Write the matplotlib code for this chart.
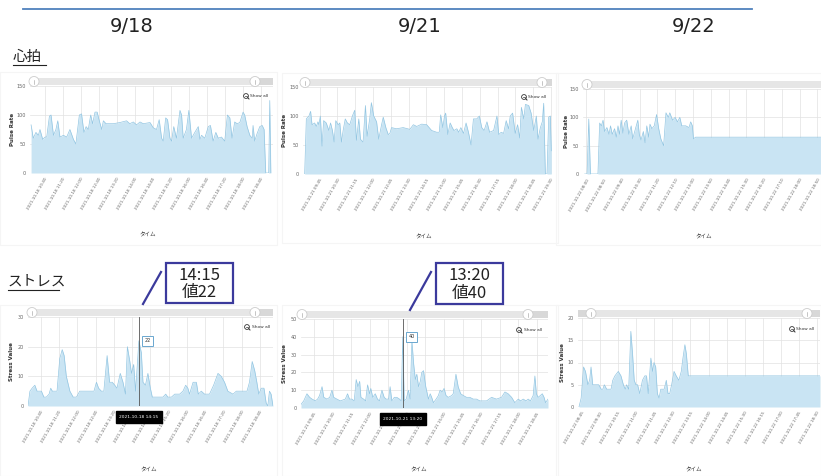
#!/usr/bin/env python3
"""Pulse rate / stress value panels for 9/18, 9/21, 9/22 (slide recreation)."""

import matplotlib
matplotlib.use("Agg")
import matplotlib.pyplot as plt
from matplotlib.patches import Rectangle, Circle

W, H = 821, 476
JP = ["Noto Sans CJK JP", "DejaVu Sans"]

FILL = "#c9e4f3"
LINE = "#93c6e2"
GRID = "#e2e2e2"
NAVY = "#3b3a9c"

# ---- data (time in hours of day, value) ----
pulse_0918_t = [10.15, 10.23, 10.33, 10.42, 10.48, 10.58, 10.67, 10.73, 10.83, 10.89, 10.98, 11.07,
                11.14, 11.22, 11.35, 11.47, 11.59, 11.72, 11.81, 11.94, 12.02, 12.11, 12.19, 12.27,
                12.36, 12.43, 12.52, 12.60, 12.68, 12.77, 12.83, 12.93, 13.20, 13.44, 13.69, 13.81,
                13.94, 14.06, 14.19, 14.31, 14.56, 14.68, 14.80, 14.90, 14.99, 15.05, 15.14, 15.21,
                15.30, 15.36, 15.44, 15.54, 15.67, 15.73, 15.79, 15.91, 16.00, 16.10, 16.22, 16.35,
                16.41, 16.47, 16.59, 16.72, 16.80, 16.90, 17.00, 17.09, 17.21, 17.33, 17.43, 17.52,
                17.60, 17.70, 17.79, 17.89, 18.01, 18.07, 18.16, 18.26, 18.35, 18.38, 18.44, 18.53,
                18.63, 18.72, 18.79, 18.85, 18.96, 19.00, 19.04]
pulse_0918_v = [83, 60, 70, 65, 75, 58, 62, 62, 98, 100, 65, 75,
                90, 62, 65, 62, 75, 58, 50, 100, 102, 70, 80, 75,
                100, 85, 105, 105, 90, 75, 90, 85, 85, 87, 90, 85,
                88, 83, 88, 85, 87, 78, 75, 92, 60, 55, 95, 92,
                60, 55, 80, 60, 108, 100, 60, 75, 108, 60, 70, 80,
                58, 65, 60, 80, 82, 55, 70, 60, 62, 55, 100, 95,
                60, 88, 85, 87, 105, 100, 80, 65, 60, 82, 55, 68,
                80, 82, 75, 0, 0, 125, 0]

pulse_0921_t = [9.12, 9.19, 9.30, 9.37, 9.43, 9.54, 9.61, 9.68, 9.72, 9.78, 9.85, 9.92,
                10.03, 10.14, 10.21, 10.29, 10.36, 10.43, 10.53, 10.60, 10.67, 10.74, 10.83, 10.92,
                11.02, 11.13, 11.23, 11.30, 11.40, 11.47, 11.58, 11.68, 11.75, 11.86, 11.93, 12.03,
                12.15, 12.24, 12.36, 12.43, 12.54, 12.64, 12.71, 12.78, 12.99, 13.27, 13.55, 13.70,
                13.84, 14.05, 14.26, 14.47, 14.68, 14.79, 14.85, 14.94, 15.01, 15.06, 15.15, 15.25,
                15.34, 15.41, 15.53, 15.61, 15.70, 15.81, 15.92, 16.02, 16.13, 16.23, 16.37, 16.48,
                16.58, 16.68, 16.80, 16.91, 17.08, 17.22, 17.30, 17.40, 17.50, 17.61, 17.71, 17.78,
                17.88, 17.99, 18.09, 18.18, 18.25, 18.35, 18.42, 18.56, 18.66, 18.77, 18.88, 18.95,
                19.05, 19.13, 19.19, 19.26, 19.33, 19.40, 19.47, 19.51]
pulse_0921_v = [0, 95, 100, 108, 85, 88, 82, 90, 85, 100, 48, 92,
                88, 75, 88, 75, 55, 92, 85, 88, 55, 75, 95, 88,
                85, 100, 110, 58, 95, 60, 55, 118, 65, 95, 123, 100,
                90, 60, 85, 98, 80, 68, 70, 80, 78, 80, 77, 85,
                82, 86, 85, 75, 72, 72, 102, 80, 100, 105, 68, 88,
                80, 75, 78, 72, 80, 70, 88, 72, 50, 95, 95, 100,
                80, 75, 90, 72, 75, 100, 68, 72, 70, 92, 78, 100,
                105, 70, 85, 62, 115, 95, 120, 118, 105, 75, 100, 60,
                80, 90, 122, 0, 0, 98, 100, 40]

pulse_0922_t = [7.92, 8.03, 8.11, 8.19, 8.54, 8.62, 8.70, 8.78, 8.85, 8.96, 9.06, 9.13,
                9.21, 9.32, 9.40, 9.48, 9.55, 9.63, 9.71, 9.79, 9.89, 9.99, 10.10, 10.17,
                10.30, 10.41, 10.48, 10.56, 10.67, 10.75, 10.83, 10.92, 10.98, 11.07, 11.18, 11.29,
                11.39, 11.49, 11.62, 11.73, 11.84, 11.91, 12.04, 12.16, 12.27, 12.38, 12.47, 12.66,
                12.81, 12.89, 12.97, 13.02, 13.12, 19.00]
pulse_0922_v = [0, 0, 97, 0, 0, 90, 85, 95, 75, 82, 70, 85,
                70, 80, 65, 85, 70, 95, 72, 90, 95, 70, 85, 62,
                80, 95, 70, 60, 75, 55, 85, 65, 88, 80, 85, 105,
                80, 62, 50, 108, 100, 108, 95, 100, 92, 100, 85, 85,
                82, 92, 85, 62, 65, 65]

stress_0918_t = [10.20, 10.27, 10.35, 10.45, 10.53, 10.69, 10.78, 10.87, 10.97, 11.03, 11.09, 11.26,
                 11.36, 11.45, 11.52, 11.60, 11.73, 11.85, 11.97, 12.09, 12.46, 12.61, 12.70, 12.78,
                 12.88, 12.97, 13.09, 13.18, 13.28, 13.37, 13.45, 13.57, 13.67, 13.76, 13.83, 13.92,
                 13.98, 14.06, 14.13, 14.25, 14.34, 14.40, 14.49, 14.58, 14.67, 14.74, 15.13, 15.23,
                 15.31, 15.44, 15.56, 15.74, 15.86, 15.96, 16.04, 16.10, 16.23, 16.35, 16.42, 16.53,
                 16.65, 16.83, 16.98, 17.14, 17.26, 17.38, 17.50, 17.69, 17.81, 18.05, 18.20, 18.29,
                 18.39, 18.48, 18.56, 18.63, 18.72, 18.82, 18.90, 18.96, 19.02, 19.08, 19.15]
stress_0918_v = [0, 5, 6, 7, 5, 5, 3, 3, 4, 6, 5, 5,
                 16, 19, 17, 10, 5, 3, 3, 5, 5, 5, 8, 6,
                 5, 5, 17, 8, 8, 7, 6, 11, 8, 4, 20, 15,
                 11, 14, 5, 22, 18, 8, 7, 11, 6, 3, 3, 4,
                 3, 3, 4, 4, 5, 7, 6, 4, 8, 8, 4, 5,
                 4, 4, 7, 11, 10, 8, 5, 4, 5, 5, 5, 8,
                 15, 12, 8, 4, 6, 6, 1, 0, 5, 4, 0]

stress_0921_t = [9.22, 9.33, 9.46, 9.57, 9.67, 9.80, 9.89, 9.97, 10.07, 10.14, 10.27, 10.38,
                 10.47, 10.54, 10.67, 10.81, 11.01, 11.10, 11.18, 11.28, 11.37, 11.45, 11.52, 11.59,
                 11.64, 11.75, 11.83, 11.91, 11.99, 12.04, 12.12, 12.22, 12.31, 12.39, 12.49, 12.58,
                 12.66, 12.76, 12.82, 12.89, 12.99, 13.09, 13.20, 13.27, 13.33, 13.39, 13.47, 13.56,
                 13.63, 13.70, 13.77, 13.84, 13.90, 13.97, 14.04, 14.10, 14.17, 14.26, 14.37, 14.44,
                 14.50, 14.57, 14.68, 14.77, 14.84, 14.92, 15.00, 15.08, 15.17, 15.31, 15.37, 15.48,
                 15.57, 15.67, 15.78, 15.91, 16.04, 16.18, 16.31, 16.45, 16.72, 16.92, 17.12, 17.32,
                 17.46, 17.59, 17.73, 17.86, 18.00, 18.09, 18.20, 18.31, 18.40, 18.49, 18.60, 18.67,
                 18.73, 18.80, 18.89, 18.97, 19.04, 19.10, 19.20]
stress_0921_v = [2, 4, 8, 6, 5, 4, 5, 7, 12, 6, 5, 6,
                 10, 6, 5, 4, 5, 8, 5, 5, 4, 16, 12, 15,
                 6, 5, 4, 13, 8, 11, 6, 8, 5, 4, 10, 6,
                 5, 5, 12, 4, 6, 6, 5, 4, 40, 4, 5, 10,
                 5, 38, 25, 16, 19, 12, 15, 20, 21, 12, 5, 8,
                 6, 3, 5, 7, 10, 9, 11, 7, 6, 7, 8, 19,
                 12, 8, 7, 6, 6, 5, 5, 4, 4, 6, 5, 6,
                 9, 8, 6, 3, 5, 4, 5, 4, 5, 4, 7, 18,
                 8, 6, 7, 8, 6, 3, 5]

stress_0922_t = [8.63, 8.72, 8.82, 8.90, 9.00, 9.07, 9.13, 9.20, 9.31, 9.45, 9.55, 9.62,
                 9.68, 9.78, 9.96, 10.03, 10.12, 10.26, 10.37, 10.47, 10.55, 10.60, 10.69, 10.78,
                 10.85, 10.92, 10.99, 11.06, 11.15, 11.26, 11.36, 11.43, 11.50, 11.61, 11.68, 11.74,
                 11.81, 11.88, 11.95, 12.02, 12.16, 12.25, 12.32, 12.39, 12.47, 12.57, 12.66, 12.77,
                 12.87, 12.94, 13.02, 13.08, 13.16, 18.62]
stress_0922_v = [0, 2, 9, 8, 5, 6, 9, 5, 5, 5, 4, 4,
                 5, 4, 4, 6, 7, 8, 7, 5, 4, 5, 4, 17,
                 12, 6, 5, 5, 3, 6, 7, 7, 3, 11, 8, 10,
                 9, 3, 2, 4, 4, 6, 3, 3, 5, 8, 7, 6,
                 8, 11, 14, 12, 7, 7]

ticks_0918 = ["10:40", "11:20", "12:00", "12:40", "13:20", "14:00", "14:40",
              "15:20", "16:00", "16:40", "17:20", "18:00", "18:40"]
ticks_0921_pulse = ["09:45", "10:30", "11:15", "12:00", "12:45", "13:30", "14:15",
                    "15:00", "15:45", "16:30", "17:15", "18:00", "18:45", "19:30"]
ticks_0921_stress = ticks_0921_pulse[:-1]
ticks_0922_pulse = ["08:00", "08:50", "09:40", "10:30", "11:20", "12:10", "13:00",
                    "13:50", "14:40", "15:30", "16:20", "17:10", "18:00", "18:50"]
ticks_0922_stress = ["08:45", "09:30", "10:15", "11:00", "11:45", "12:30", "13:15",
                     "14:00", "14:45", "15:30", "16:15", "17:00", "17:45", "18:30"]

day_labels = ["9/18", "9/21", "9/22"]
dates = ["2021-10-18", "2021-10-21", "2021-10-22"]

# highlighted stress points: (panel, time, value, callout text)
highlights = [(3, "14:15", 22, "14:15\n値22"), (4, "13:20", 40, "13:20\n値40")]


def to_hours(hhmm):
    h, m = hhmm.split(":")
    return int(h) + int(m) / 60


def px_axes(fig, left, top, right, bottom):
    return fig.add_axes([left / W, 1 - bottom / H, (right - left) / W, (bottom - top) / H])


# ---- layout (pixels) ----
PANELS = [
    dict(box=(30, 86, 273, 173), t=pulse_0918_t, v=pulse_0918_v, date=dates[0], ticks=ticks_0918,
         xlim=(10.11, 19.12), ylim=150, yticks=[0, 50, 100, 150], ylabel="Pulse Rate",
         handles=(34, 255), show=(246, 96), ylx=12, xlab=(148, 235)),
    dict(box=(303, 87, 552, 174), t=pulse_0921_t, v=pulse_0921_v, date=dates[1], ticks=ticks_0921_pulse,
         xlim=(9.05, 19.54), ylim=150, yticks=[0, 50, 100, 150], ylabel="Pulse Rate",
         handles=(305, 542), show=(524, 97), ylx=285, xlab=(424, 237)),
    dict(box=(583, 89, 821, 174), t=pulse_0922_t, v=pulse_0922_v, date=dates[2], ticks=ticks_0922_pulse,
         xlim=(7.84, 19.0), ylim=150, yticks=[0, 50, 100, 150], ylabel="Pulse Rate",
         handles=(587, None), show=None, ylx=567, xlab=(704, 237)),
    dict(box=(28, 317, 273, 406), t=stress_0918_t, v=stress_0918_v, date=dates[0], ticks=ticks_0918,
         xlim=(10.20, 19.15), ylim=30, yticks=[0, 10, 20, 30], ylabel="Stress Value",
         handles=(32, 255), show=(247, 327), ylx=12, xlab=(149, 470)),
    dict(box=(301, 319, 548, 408), t=stress_0921_t, v=stress_0921_v, date=dates[1], ticks=ticks_0921_stress,
         xlim=(9.22, 19.20), ylim=50, yticks=[0, 10, 20, 30, 40, 50], ylabel="Stress Value",
         handles=(302, 528), show=(519, 330), ylx=284, xlab=(419, 470)),
    dict(box=(578, 318, 820, 407), t=stress_0922_t, v=stress_0922_v, date=dates[2], ticks=ticks_0922_stress,
         xlim=(8.59, 18.62), ylim=20, yticks=[0, 5, 10, 15, 20], ylabel="Stress Value",
         handles=(591, 807), show=(792, 329), ylx=563, xlab=(694, 470)),
]

fig = plt.figure(figsize=(W / 100, H / 100), dpi=100)
fig.patch.set_facecolor("white")

axes = []
for p in PANELS:
    left, top, right, bottom = p["box"]
    ax = px_axes(fig, left, top, right, bottom)
    ax.fill_between(p["t"], p["v"], 0, color=FILL, lw=0, zorder=2)
    ax.plot(p["t"], p["v"], color=LINE, lw=0.5, zorder=3)
    ax.set_xlim(*p["xlim"])
    ax.set_ylim(0, p["ylim"])
    ax.set_yticks(p["yticks"])
    ax.set_xticks([to_hours(s) for s in p["ticks"]])
    ax.set_xticklabels([f"{p['date']} {s}" for s in p["ticks"]], rotation=60,
                       ha="right", rotation_mode="anchor", fontsize=3.0, color="#666666")
    ax.tick_params(axis="y", labelsize=3.5, labelcolor="#666666", length=0, pad=3)
    ax.tick_params(axis="x", length=0, pad=3)
    ax.grid(True, color=GRID, lw=0.5, zorder=0)
    ax.set_axisbelow(True)
    for s in ax.spines.values():
        s.set_visible(False)
    axes.append(ax)

# overlay in pixel coordinates for slide decorations
ov = fig.add_axes([0, 0, 1, 1], zorder=20)
ov.set_xlim(0, W)
ov.set_ylim(H, 0)
ov.axis("off")
ov.patch.set_alpha(0)

# top rule and day headers
ov.plot([23, 752], [9, 9], color="#4f81bd", lw=1.3)
for x, lab in zip([132, 420, 694], day_labels):
    ov.text(x, 26, lab, fontsize=14, ha="center", va="center", color="#222222")

# section titles (underlined)
ov.text(13, 57, "心拍", fontsize=10.5, family=JP, ha="left", va="center", color="#222222")
ov.plot([13, 46], [64.5, 64.5], color="#222222", lw=0.8)
ov.text(8, 282, "ストレス", fontsize=10.5, family=JP, ha="left", va="center", color="#222222")
ov.plot([8, 59], [290, 290], color="#222222", lw=0.8)

# faint panel frames
for (x0, y0, x1, y1) in [(0, 72, 277, 245), (282, 73, 558, 243), (556, 73, 821, 245),
                         (0, 305, 277, 476), (282, 305, 558, 476), (556, 305, 821, 476)]:
    ov.add_patch(Rectangle((x0, y0), x1 - x0, y1 - y0, fill=False, ec="#f5f5f5", lw=0.8))

for p in PANELS:
    left, top, right, bottom = p["box"]
    # slider bar with handles
    ov.add_patch(Rectangle((left, top - 8), right - left, 7, fc="#d8d8d8", ec="none"))
    h0, h1 = p["handles"]
    ov.add_patch(Rectangle((h0, top - 8), (h1 or right) - h0, 7, fc="#e6e6e6", ec="none"))
    for hx in (h0, h1):
        if hx is None:
            continue
        ov.add_patch(Circle((hx, top - 4.5), 5, fc="white", ec="#cccccc", lw=0.6))
        ov.plot([hx, hx], [top - 6.5, top - 2.5], color="#999999", lw=0.4)
    # "Show all" button
    if p["show"]:
        sx, sy = p["show"]
        ov.add_patch(Circle((sx, sy), 2.4, fill=False, ec="#333333", lw=0.6))
        ov.plot([sx - 1.2, sx + 1.2], [sy, sy], color="#333333", lw=0.5)
        ov.plot([sx + 1.7, sx + 3], [sy + 1.7, sy + 3], color="#333333", lw=0.7)
        ov.text(sx + 4.5, sy, "Show all", fontsize=3.2, ha="left", va="center", color="#333333")
    # axis titles
    ov.text(p["ylx"], (top + bottom) / 2, p["ylabel"], rotation=90, fontsize=4, fontweight="bold",
            ha="center", va="center", color="#333333")
    ov.text(*p["xlab"], "タイム", fontsize=4, family=JP, ha="center", va="center", color="#333333")

callout_boxes = [(166, 263, 233, 303), (436, 263, 503, 304)]
callout_lines = [((161, 272), (143, 304)), ((431, 272), (410, 310))]

# cursor, tooltip and value label on the highlighted stress points
for idx, hhmm, val, _ in highlights:
    ax = axes[idx]
    t = to_hours(hhmm)
    ax.axvline(t, color="#555555", lw=0.6, zorder=4)
    ax.annotate(f"{val}", xy=(t, val), xytext=(4, 0), textcoords="offset points",
                ha="left", va="center", fontsize=3.5, color="#333333", zorder=6,
                bbox=dict(boxstyle="square,pad=0.5", fc="white", ec="#6aa7cf", lw=0.7))
    ax.annotate(f"{PANELS[idx]['date']} {hhmm}", xy=(t, 0), xytext=(0, -6.5),
                textcoords="offset points", ha="center", va="top", fontsize=3.2,
                color="white", zorder=10, annotation_clip=False,
                bbox=dict(boxstyle="square,pad=0.8", fc="black", ec="black"))

# slide callouts
for (_, _, _, label), (x0, y0, x1, y1), (p0, p1) in zip(highlights, callout_boxes, callout_lines):
    ov.add_patch(Rectangle((x0, y0), x1 - x0, y1 - y0, fc="white", ec=NAVY, lw=1.6))
    ov.text((x0 + x1) / 2, (y0 + y1) / 2 + 1, label, fontsize=12, family=JP, ha="center",
            va="center", linespacing=1.05, color="#222222")
    ov.plot([p0[0], p1[0]], [p0[1], p1[1]], color=NAVY, lw=1.6)

fig.savefig("out.png", dpi=100)
